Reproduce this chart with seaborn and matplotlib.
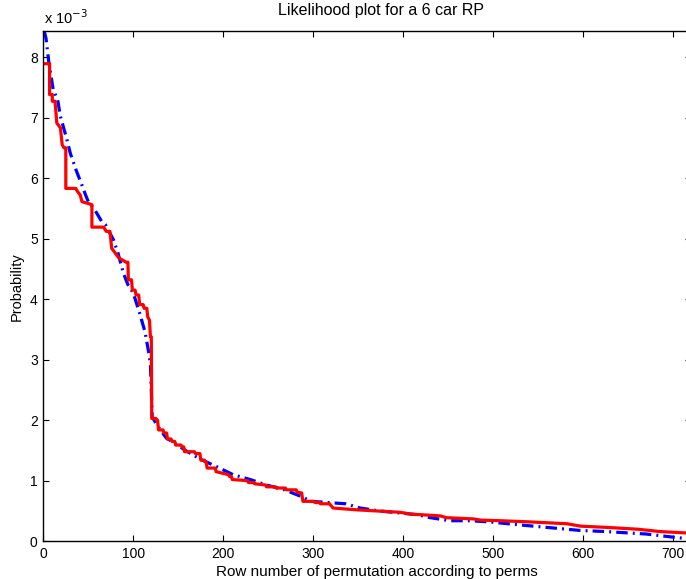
import numpy as np
import pandas as pd
import matplotlib
matplotlib.use("Agg")
import matplotlib.pyplot as plt
import seaborn as sns

# Red series: vertices (x, value in units of 1e-3)
red_x = [1, 7, 7, 10, 10, 13, 15, 19, 21, 23, 25, 25, 36, 38, 41, 43, 50, 54, 54, 67, 70, 74,
         76, 80, 84, 92, 94, 94.5, 98, 99, 102, 103, 106, 107, 111, 112, 115, 116, 118, 119,
         120, 120.5, 125, 126, 127, 128, 133, 134, 137, 138, 142, 143, 146, 147, 153, 154,
         156, 157, 168, 169, 174, 175, 179, 180, 181, 182, 191, 192, 206, 207, 209, 210, 220,
         227, 228, 234, 235, 247, 248, 258, 259, 269, 270, 281, 282, 287, 288.5, 301, 302,
         307, 308, 318, 322, 348, 396, 408, 441, 448, 478, 486, 508, 541, 582, 597, 626, 660,
         686, 712, 720]
red_y = [7.89, 7.89, 7.38, 7.38, 7.27, 7.27, 6.91, 6.83, 6.55, 6.50, 6.50, 5.83, 5.83, 5.78,
         5.72, 5.61, 5.58, 5.56, 5.19, 5.19, 5.12, 5.12, 4.84, 4.76, 4.68, 4.61, 4.61, 4.32,
         4.32, 4.15, 4.15, 4.07, 4.07, 3.91, 3.91, 3.85, 3.85, 3.71, 3.65, 3.38, 3.38, 2.03,
         2.03, 2.00, 2.00, 1.84, 1.84, 1.79, 1.79, 1.69, 1.69, 1.65, 1.65, 1.59, 1.59, 1.56,
         1.56, 1.48, 1.48, 1.45, 1.45, 1.34, 1.34, 1.31, 1.31, 1.21, 1.21, 1.15, 1.10, 1.07,
         1.07, 1.02, 1.01, 1.00, 0.97, 0.97, 0.95, 0.93, 0.90, 0.90, 0.88, 0.88, 0.85, 0.85,
         0.81, 0.80, 0.66, 0.66, 0.64, 0.64, 0.62, 0.62, 0.55, 0.52, 0.48, 0.45, 0.42, 0.39,
         0.37, 0.35, 0.34, 0.32, 0.29, 0.25, 0.23, 0.20, 0.16, 0.14, 0.13]

# Blue series: points (units of 1e-3)
blue_x = [1, 3, 6, 11, 16, 19, 26, 30, 37, 43, 47, 50, 57, 65, 69, 78, 83, 89, 94, 100,
          107, 113, 117, 119, 121, 124, 130, 137, 143, 157, 174, 193, 211, 230, 248, 268,
          290, 296, 308, 326, 336, 352, 374, 415, 430, 452, 474, 496, 530, 552, 574, 596,
          626, 648, 670, 693, 711, 720]
blue_y = [8.43, 8.31, 7.93, 7.46, 7.29, 7.02, 6.65, 6.41, 6.11, 5.88, 5.72, 5.61, 5.48, 5.28,
          5.23, 4.98, 4.76, 4.43, 4.24, 4.10, 3.77, 3.46, 3.13, 2.94, 2.05, 1.98, 1.84, 1.70,
          1.65, 1.51, 1.36, 1.23, 1.10, 1.02, 0.93, 0.85, 0.72, 0.66, 0.65, 0.63, 0.62, 0.55,
          0.50, 0.44, 0.39, 0.34, 0.34, 0.32, 0.27, 0.24, 0.21, 0.18, 0.16, 0.14, 0.12, 0.08,
          0.05, 0.04]

x_ticks = [0, 100, 200, 300, 400, 500, 600, 700]
y_ticks = [0, 1, 2, 3, 4, 5, 6, 7, 8]

title = "Likelihood plot for a 6 car RP"
xlabel = "Row number of permutation according to perms"
ylabel = "Probability"

sns.set_theme(style="white")
plt.rcParams["font.family"] = ["Liberation Sans", "DejaVu Sans"]
plt.rcParams["font.size"] = 10

W, H = 686, 579
fig = plt.figure(figsize=(W / 100, H / 100), dpi=100)
ax = fig.add_axes([43.3 / W, (H - 541.3) / H, 648 / W, 510.3 / H])

blue_df = pd.DataFrame({"x": blue_x, "y": blue_y})
red_df = pd.DataFrame({"x": red_x, "y": red_y})

sns.lineplot(data=blue_df, x="x", y="y", ax=ax, color=(0, 0, 1), lw=2.3,
             estimator=None, sort=False)
ax.lines[-1].set_dashes([3.6, 1.6, 0.6, 1.6])
sns.lineplot(data=red_df, x="x", y="y", ax=ax, color=(1, 0, 0), lw=2.3,
             estimator=None, sort=False)

ax.set_xlim(0, 720)
ax.set_ylim(0, 8.43)
ax.set_xticks(x_ticks)
ax.set_yticks(y_ticks)
ax.set_xticklabels([str(t) for t in x_ticks])
ax.set_yticklabels([str(t) for t in y_ticks])
ax.tick_params(direction="in", length=4.5, width=0.8, color="black",
               top=True, right=True, bottom=True, left=True,
               labelsize=10, labelcolor="black", pad=4)
for s in ax.spines.values():
    s.set_visible(True)
    s.set_color("black")
    s.set_linewidth(1.0)

ax.set_xlabel("")
ax.set_ylabel("")
fig.text(377 / W, 1 - 572 / H, xlabel, fontsize=11, color="black",
         ha="center", va="center")
fig.text(17 / W, 1 - 287 / H, ylabel, fontsize=10.5, color="black",
         ha="center", va="center", rotation=90)
fig.text(381 / W, 1 - 10 / H, title, fontsize=11.5, color="black",
         ha="center", va="center")
fig.text(44 / W, 1 - 24 / H, "x 10$^{-3}$", fontsize=10.5, color="black",
         ha="left", va="baseline")

fig.savefig("out.png", dpi=100)
